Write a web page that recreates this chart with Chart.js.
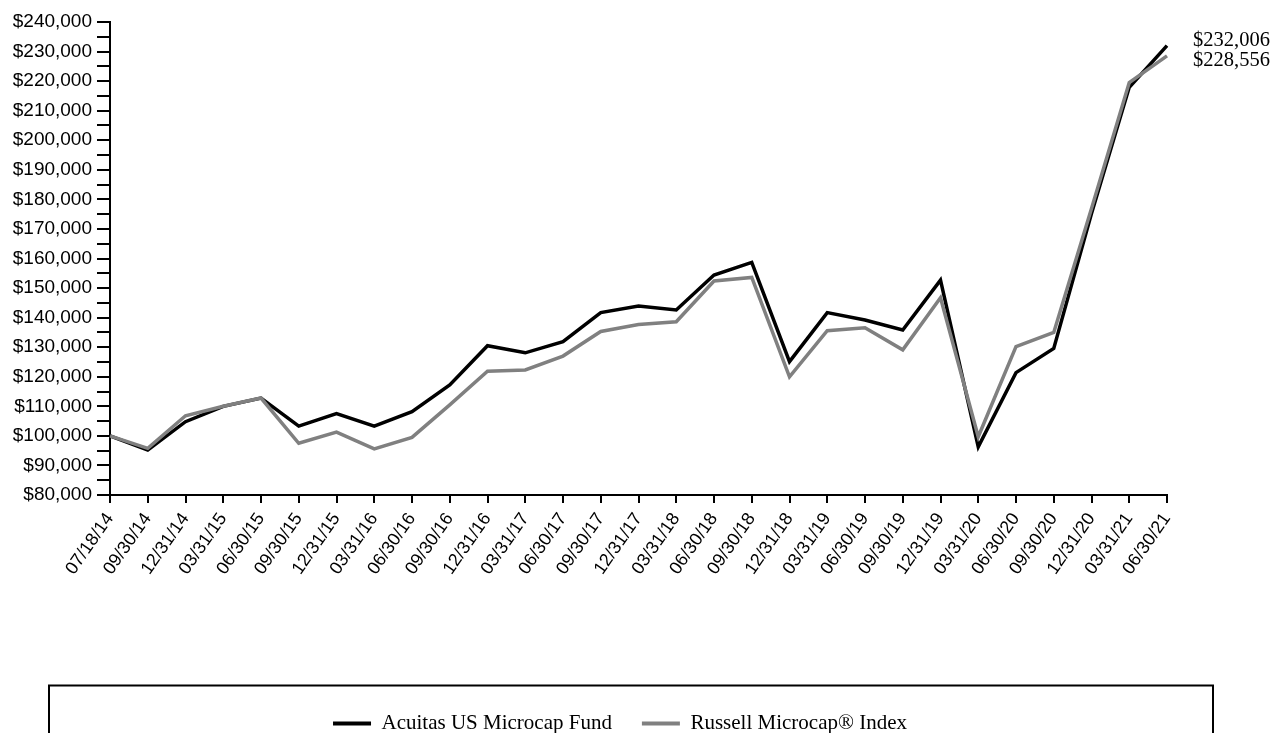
<!DOCTYPE html>
<html>
<head>
<meta charset="utf-8">
<script src="https://cdn.jsdelivr.net/npm/chart.js@4/dist/chart.umd.min.js"></script>
<style>
  html, body { margin: 0; padding: 0; background: #fff; overflow: hidden; }
  #wrap { width: 1272px; height: 744px; position: relative; }
</style>
</head>
<body>
<div id="wrap"><canvas id="growthChart"></canvas></div>
<script>
// period end dates on the x axis
const dates = ["07/18/14", "09/30/14", "12/31/14", "03/31/15", "06/30/15", "09/30/15", "12/31/15",
  "03/31/16", "06/30/16", "09/30/16", "12/31/16", "03/31/17", "06/30/17", "09/30/17", "12/31/17",
  "03/31/18", "06/30/18", "09/30/18", "12/31/18", "03/31/19", "06/30/19", "09/30/19", "12/31/19",
  "03/31/20", "06/30/20", "09/30/20", "12/31/20", "03/31/21", "06/30/21"];

const fundValues = [100000, 95200, 104800, 110000, 112800, 103300, 107500, 103300, 108200, 117200,
  130500, 128100, 131900, 141700, 143900, 142600, 154400, 158700, 125100, 141700, 139200, 135800,
  152700, 96300, 121400, 129600, 175200, 217900, 232006];

const indexValues = [100000, 95800, 106800, 110000, 112800, 97500, 101300, 95600, 99500, 110500,
  121900, 122300, 127000, 135300, 137700, 138600, 152400, 153600, 120000, 135600, 136600, 129100,
  146700, 99700, 130200, 135000, 176900, 219500, 228556];

const seriesNames = ["Acuitas US Microcap Fund", "Russell Microcap\u00AE Index"];
const seriesColors = ["#000000", "#808080"];

const yMin = 80000;
const yMax = 240000;
const yStep = 5000;

const money = (v) => "$" + v.toLocaleString("en-US");

const serif = "'Liberation Serif', 'Times New Roman', serif";
const sans = "'Liberation Sans', Arial, sans-serif";

// ending values printed to the right of the lines, plus the framed legend area
const extrasPlugin = {
  id: "extras",
  afterDraw(chart) {
    const { ctx, scales } = chart;
    const x = scales.x.right + 26;
    const last = dates.length - 1;
    const y1 = scales.y.getPixelForValue(fundValues[last]);
    const y2 = scales.y.getPixelForValue(indexValues[last]);
    const mid = (y1 + y2) / 2;
    ctx.save();
    ctx.font = "20.5px " + serif;
    ctx.fillStyle = "#000";
    ctx.textAlign = "left";
    ctx.textBaseline = "middle";
    ctx.fillText(money(fundValues[last]), x, mid - 10);
    ctx.fillText(money(indexValues[last]), x, mid + 10);

    // legend frame (runs off the bottom edge)
    ctx.strokeStyle = "#000";
    ctx.lineWidth = 2;
    ctx.beginPath();
    ctx.moveTo(49, chart.height + 5);
    ctx.lineTo(49, 685.5);
    ctx.lineTo(1213, 685.5);
    ctx.lineTo(1213, chart.height + 5);
    ctx.stroke();
    ctx.restore();
  },
};

const legendPad = 30;

document.addEventListener("DOMContentLoaded", () => {
  const ctx = document.getElementById("growthChart").getContext("2d");

  new Chart(ctx, {
    type: "line",
    data: {
      labels: dates,
      datasets: [
        {
          label: seriesNames[0],
          data: fundValues,
          borderColor: seriesColors[0],
          backgroundColor: seriesColors[0],
          borderWidth: 3.5,
          pointRadius: 0,
          tension: 0,
          borderJoinStyle: "miter",
          order: 1,
        },
        {
          label: seriesNames[1],
          data: indexValues,
          borderColor: seriesColors[1],
          backgroundColor: seriesColors[1],
          borderWidth: 3.5,
          pointRadius: 0,
          tension: 0,
          borderJoinStyle: "miter",
          order: 0,
        },
      ],
    },
    options: {
      responsive: true,
      maintainAspectRatio: false,
      animation: false,
      layout: {
        padding: { top: 22, left: 0, right: 32, bottom: 0 },
      },
      plugins: {
        tooltip: { enabled: false },
        legend: {
          position: "bottom",
          labels: {
            boxWidth: 38,
            boxHeight: 4,
            padding: legendPad,
            color: "#000",
            font: { family: serif, size: 21 },
            generateLabels: (chart) =>
              chart.data.datasets.map((ds, i) => ({
                text: ds.label,
                fillStyle: ds.borderColor,
                strokeStyle: ds.borderColor,
                lineWidth: 0,
                fontColor: "#000",
                hidden: false,
                datasetIndex: i,
              })),
          },
        },
      },
      scales: {
        x: {
          offset: false,
          afterFit: (scale) => {
            scale.height = 218 - legendPad;
          },
          border: { display: true, color: "#000", width: 2 },
          grid: {
            display: true,
            drawOnChartArea: false,
            drawTicks: true,
            tickLength: 8,
            color: "#000",
            lineWidth: 2,
          },
          ticks: {
            autoSkip: false,
            minRotation: 55,
            maxRotation: 55,
            padding: 6,
            color: "#000",
            font: { family: sans, size: 18 },
          },
        },
        y: {
          min: yMin,
          max: yMax,
          afterFit: (scale) => {
            scale.width = 110;
          },
          border: { display: true, color: "#000", width: 2 },
          grid: {
            display: true,
            drawOnChartArea: false,
            drawTicks: true,
            tickLength: 13,
            color: "#000",
            lineWidth: 2,
          },
          ticks: {
            stepSize: yStep,
            maxTicksLimit: 100,
            autoSkip: false,
            padding: 5,
            color: "#000",
            font: { family: sans, size: 19 },
            callback: (v) => (v % 10000 === 0 ? money(v) : ""),
          },
        },
        // empty right-hand strip that holds the ending value labels
        endLabels: {
          position: "right",
          min: yMin,
          max: yMax,
          afterFit: (scale) => {
            scale.width = 73;
          },
          border: { display: false },
          grid: { display: false, drawTicks: false },
          ticks: { display: false },
        },
      },
    },
    plugins: [extrasPlugin],
  });
});
</script>
</body>
</html>
